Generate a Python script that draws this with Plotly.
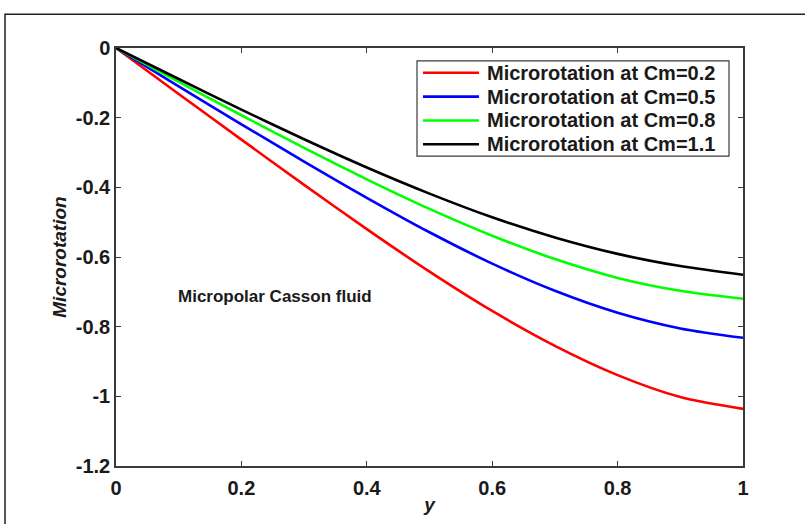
import plotly.graph_objects as go

y_pos = [0.0, 0.1, 0.2, 0.3, 0.4, 0.5, 0.6, 0.7, 0.8, 0.9, 1.0]
cm_02 = [0.0, -0.132, -0.263, -0.393, -0.520, -0.642, -0.755, -0.855, -0.939, -1.002, -1.036]
cm_05 = [0.0, -0.110, -0.219, -0.326, -0.430, -0.529, -0.619, -0.697, -0.760, -0.805, -0.832]
cm_08 = [0.0, -0.097, -0.193, -0.287, -0.377, -0.462, -0.539, -0.606, -0.660, -0.697, -0.720]
cm_11 = [0.0, -0.089, -0.177, -0.262, -0.343, -0.418, -0.486, -0.544, -0.591, -0.626, -0.651]

series_names = ["Microrotation at Cm=0.2", "Microrotation at Cm=0.5",
                "Microrotation at Cm=0.8", "Microrotation at Cm=1.1"]
series_colors = ["#FF0000", "#0000FF", "#00FF00", "#000000"]

x_tickvals = [0, 0.2, 0.4, 0.6, 0.8, 1]
x_ticktext = ["0", "0.2", "0.4", "0.6", "0.8", "1"]
y_tickvals = [0, -0.2, -0.4, -0.6, -0.8, -1, -1.2]
y_ticktext = ["0", "-0.2", "-0.4", "-0.6", "-0.8", "-1", "-1.2"]

FONT = "Liberation Sans, Arial, sans-serif"
TXT = "#1a1a1a"

fig = go.Figure()
for vals, name, col in zip([cm_02, cm_05, cm_08, cm_11], series_names, series_colors):
    fig.add_trace(go.Scatter(x=y_pos, y=vals, mode="lines", name=name, showlegend=False,
                             line=dict(color=col, width=2.6, shape="spline", smoothing=0.8)))

W, H = 805, 524
L, R, T, B = 116, 62, 48, 55
pw, ph = W - L - R, H - T - B

def px_x(p):
    return (p - L) / pw

def px_y(p):
    return (H - B - p) / ph

axis_common = dict(showgrid=False, zeroline=False, showline=True, linecolor="#3a3a3a",
                   linewidth=1.5, mirror="ticks", ticks="inside", ticklen=5,
                   tickcolor="#3a3a3a", tickwidth=1.2,
                   tickfont=dict(family=FONT, size=20, color=TXT, weight="bold"))

fig.update_layout(
    width=W, height=H,
    margin=dict(l=L, r=R, t=T, b=B),
    paper_bgcolor="white", plot_bgcolor="white",
    font=dict(family=FONT, size=17, color=TXT),
    xaxis=dict(range=[0, 1], tickvals=x_tickvals, ticktext=x_ticktext,
               ticklabelstandoff=3,
               title=dict(text="<i>y</i>", font=dict(family=FONT, size=19, weight="bold"), standoff=0),
               **axis_common),
    yaxis=dict(range=[-1.2, 0], tickvals=y_tickvals, ticktext=y_ticktext,
               title=dict(text="<i>Microrotation</i>", font=dict(family=FONT, size=19, weight="bold"), standoff=4),
               **axis_common),
    showlegend=False,
)

# legend box drawn in paper space (key for the four series)
fig.add_shape(type="rect", xref="paper", yref="paper",
              x0=px_x(417), x1=px_x(729), y0=px_y(157), y1=px_y(61),
              line=dict(color="#3a3a3a", width=1.2), fillcolor="white", layer="above")
row_px = [73, 97, 121, 145]
for name, col, ry in zip(series_names, series_colors, row_px):
    fig.add_shape(type="line", xref="paper", yref="paper",
                  x0=px_x(423), x1=px_x(479), y0=px_y(ry), y1=px_y(ry),
                  line=dict(color=col, width=2.6), layer="above")
    fig.add_annotation(x=px_x(485), y=px_y(ry), xref="paper", yref="paper",
                       xanchor="left", yanchor="middle", showarrow=False,
                       text=name, font=dict(family=FONT, size=20, color=TXT, weight="bold"))

fig.add_annotation(x=px_x(275), y=px_y(298), xref="paper", yref="paper",
                   xanchor="center", yanchor="middle",
                   text="Micropolar Casson fluid", showarrow=False,
                   font=dict(family=FONT, size=17, color=TXT, weight="bold"))

fig.add_shape(type="rect", xref="paper", yref="paper",
              x0=px_x(5), x1=px_x(812), y0=px_y(532), y1=px_y(14),
              line=dict(color="#222222", width=1.5), fillcolor="rgba(0,0,0,0)")

fig.write_html("out.html")
